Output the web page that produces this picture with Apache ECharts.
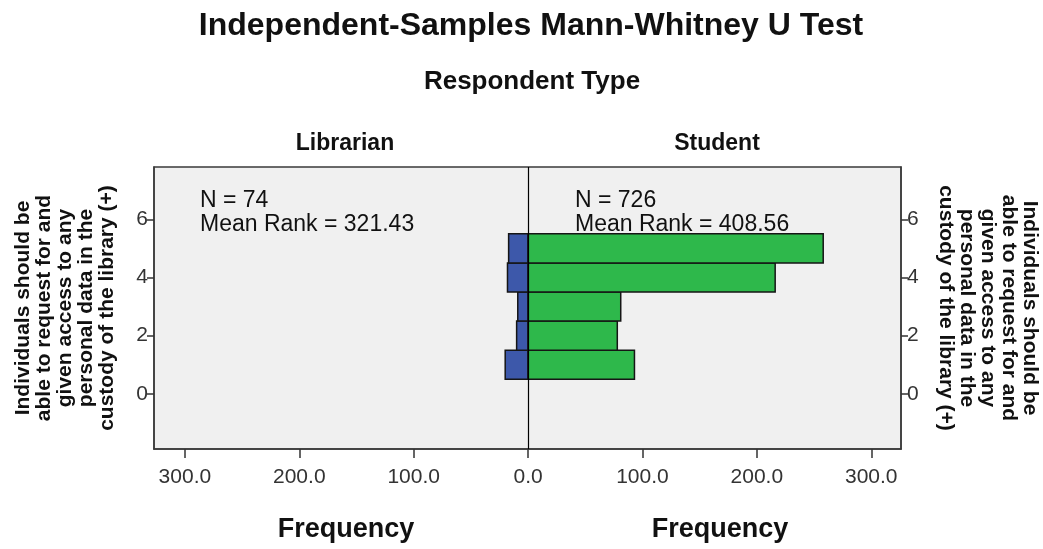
<!DOCTYPE html>
<html>
<head>
<meta charset="utf-8">
<script src="https://cdn.jsdelivr.net/npm/echarts@6/dist/echarts.min.js"></script>
<style>
  html, body { margin: 0; padding: 0; background: #fff; }
  #chart { width: 1043px; height: 549px; }
</style>
</head>
<body>
<div id="chart"></div>
<script>
  // response values (Likert score) and the frequency of each group
  var scores = [1, 2, 3, 4, 5];
  var librarianFreq = [20, 10, 9, 18, 17];
  var studentFreq = [93, 78, 81, 216, 258];
  var xTicks = [-300, -200, -100, 0, 100, 200, 300];
  var yTicks = [0, 2, 4, 6];
  var groupStats = [
    { name: 'Librarian', n: 74, meanRank: '321.43' },
    { name: 'Student', n: 726, meanRank: '408.56' }
  ];

  var font = 'Arial, "Liberation Sans", sans-serif';
  var axisName = 'Individuals should be\nable to request for and\ngiven access to any\npersonal data in the\ncustody of the library (+)';

  var libData = [];
  var stuData = [];
  for (var i = 0; i < scores.length; i++) {
    libData.push([-librarianFreq[i], scores[i]]);
    stuData.push([studentFreq[i], scores[i]]);
  }

  function renderBar (params, api) {
    var v = api.value(0);
    var y = api.value(1);
    var p0 = api.coord([0, y + 0.5]);
    var p1 = api.coord([v, y - 0.5]);
    return {
      type: 'rect',
      shape: {
        x: Math.min(p0[0], p1[0]),
        y: p0[1],
        width: Math.abs(p1[0] - p0[0]),
        height: p1[1] - p0[1]
      },
      style: {
        fill: api.visual('color'),
        stroke: '#151515',
        lineWidth: 1.5
      }
    };
  }

  var yAxisBase = function (pos, rotate, gap) {
    return {
      type: 'value',
      position: pos,
      min: -1.9,
      max: 7.8,
      name: axisName,
      nameLocation: 'middle',
      nameRotate: rotate,
      nameGap: gap,
      nameTextStyle: {
        fontFamily: font,
        fontWeight: 'bold',
        fontSize: 21,
        lineHeight: 21,
        color: '#111'
      },
      splitLine: { show: false },
      axisLine: { show: true, onZero: false, lineStyle: { color: '#3a3a3a', width: 1.5 } },
      axisTick: {
        show: true,
        length: 7,
        customValues: yTicks,
        lineStyle: { color: '#333', width: 1.5 }
      },
      axisLabel: {
        customValues: yTicks,
        margin: 6,
        fontFamily: font,
        fontSize: 21,
        color: '#333'
      }
    };
  };

  var myChart = echarts.init(document.getElementById('chart'));
  myChart.setOption({
    backgroundColor: '#fff',
    animation: false,
    title: [
      {
        text: 'Independent-Samples Mann-Whitney U Test',
        left: 526, top: 5, textAlign: 'center',
        textStyle: { fontFamily: font, fontWeight: 'bold', fontSize: 32, color: '#111' }
      },
      {
        text: 'Respondent Type',
        left: 527, top: 64, textAlign: 'center',
        textStyle: { fontFamily: font, fontWeight: 'bold', fontSize: 26, color: '#111' }
      },
      {
        text: groupStats[0].name,
        left: 340, top: 127, textAlign: 'center',
        textStyle: { fontFamily: font, fontWeight: 'bold', fontSize: 23, color: '#111' }
      },
      {
        text: groupStats[1].name,
        left: 712, top: 127, textAlign: 'center',
        textStyle: { fontFamily: font, fontWeight: 'bold', fontSize: 23, color: '#111' }
      },
      {
        text: 'Frequency',
        left: 341, top: 511, textAlign: 'center',
        textStyle: { fontFamily: font, fontWeight: 'bold', fontSize: 27, color: '#111' }
      },
      {
        text: 'Frequency',
        left: 715, top: 511, textAlign: 'center',
        textStyle: { fontFamily: font, fontWeight: 'bold', fontSize: 27, color: '#111' }
      }
    ],
    graphic: [
      {
        type: 'text', left: 200, top: 189,
        style: {
          text: 'N = ' + groupStats[0].n + '\nMean Rank = ' + groupStats[0].meanRank,
          font: '23px ' + font, lineHeight: 24, fill: '#111'
        }
      },
      {
        type: 'text', left: 575, top: 189,
        style: {
          text: 'N = ' + groupStats[1].n + '\nMean Rank = ' + groupStats[1].meanRank,
          font: '23px ' + font, lineHeight: 24, fill: '#111'
        }
      }
    ],
    grid: {
      left: 154,
      right: 142,
      top: 167,
      bottom: 100,
      outerBoundsMode: 'none',
      containLabel: false,
      show: true,
      backgroundColor: '#f0f0f0',
      borderColor: '#3a3a3a',
      borderWidth: 1.5
    },
    xAxis: {
      type: 'value',
      min: -327,
      max: 326,
      splitLine: { show: false },
      axisLine: { show: true, onZero: false, lineStyle: { color: '#3a3a3a', width: 1.5 } },
      axisTick: {
        show: true,
        length: 9,
        customValues: xTicks,
        lineStyle: { color: '#333', width: 1.5 }
      },
      axisLabel: {
        customValues: xTicks,
        margin: 18,
        fontFamily: font,
        fontSize: 21,
        color: '#333',
        formatter: function (v) { return Math.abs(v).toFixed(1); }
      }
    },
    yAxis: [
      yAxisBase('left', 90, 36),
      yAxisBase('right', -90, 34)
    ],
    series: [
      {
        name: 'Librarian',
        type: 'custom',
        renderItem: renderBar,
        color: '#3d58aa',
        encode: { x: 0, y: 1 },
        data: libData,
        silent: true
      },
      {
        name: 'Student',
        type: 'custom',
        renderItem: renderBar,
        color: '#2eb84b',
        encode: { x: 0, y: 1 },
        data: stuData,
        silent: true,
        markLine: {
          silent: true,
          symbol: 'none',
          label: { show: false },
          lineStyle: { color: '#000', width: 1.2, type: 'solid' },
          data: [{ xAxis: 0 }]
        }
      }
    ]
  });
</script>
</body>
</html>
